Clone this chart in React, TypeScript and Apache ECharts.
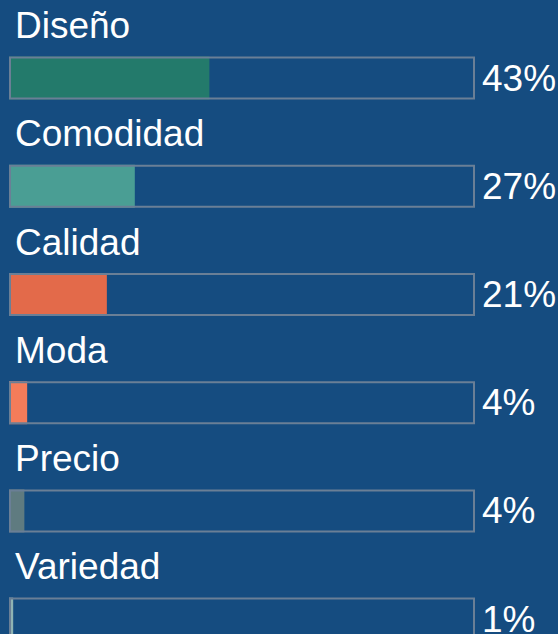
import React, { useEffect, useRef } from "react";
import * as echarts from "echarts";

const categories = ["Diseño", "Comodidad", "Calidad", "Moda", "Precio", "Variedad"];
const values = [43, 27, 21, 3.9, 3.3, 0.9];
const valueLabels = ["43%", "27%", "21%", "4%", "4%", "1%"];
const colors = ["#237a6b", "#4a9e94", "#e36a4a", "#f47c5a", "#5f7b80", "#8fb3b3"];
const fullScale = [100, 100, 100, 100, 100, 100];

const BG = "#154c80";
const FONT = "Arial, 'Liberation Sans', sans-serif";

export default function App() {
  const ref = useRef<HTMLDivElement>(null);
  useEffect(() => {
    document.body.style.margin = "0";
    document.body.style.background = BG;
    const chart = echarts.init(ref.current!, null, { renderer: "svg" });
    chart.setOption({
      animation: false,
      backgroundColor: BG,
      grid: { left: 9, width: 466, top: 24, height: 649.2, outerBoundsMode: "none", containLabel: false },
      xAxis: { type: "value", min: 0, max: 100, show: false },
      yAxis: {
        type: "category",
        data: categories,
        inverse: true,
        show: false,
      },
      series: [
        {
          type: "bar",
          barWidth: 43,
          barGap: "-100%",
          data: values.map((v, i) => ({ value: v, itemStyle: { color: colors[i] } })),
          label: { show: false },
          z: 2,
        },
        {
          type: "bar",
          barWidth: 43,
          barGap: "-100%",
          data: fullScale,
          itemStyle: { color: "rgba(0,0,0,0)", borderColor: "#6a7f96", borderWidth: 2 },
          label: {
            show: true,
            position: "right",
            distance: 7,
            color: "#ffffff",
            fontFamily: FONT,
            fontSize: 37,
            formatter: (p: any) => valueLabels[p.dataIndex],
          },
          z: 3,
        },
        {
          type: "bar",
          barWidth: 43,
          barGap: "-100%",
          data: fullScale,
          itemStyle: { color: "rgba(0,0,0,0)" },
          label: {
            show: true,
            position: [6, -31],
            verticalAlign: "middle",
            color: "#ffffff",
            fontFamily: FONT,
            fontSize: 37,
            formatter: (p: any) => categories[p.dataIndex],
          },
          z: 4,
        },
      ],
    });
    return () => chart.dispose();
  }, []);
  return <div ref={ref} style={{ width: 558, height: 634 }} />;
}
